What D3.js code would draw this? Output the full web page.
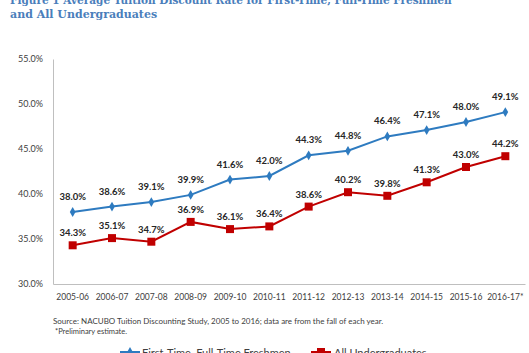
<!DOCTYPE html>
<html><head><meta charset="utf-8">
<script src="https://cdn.jsdelivr.net/npm/d3@7"></script>
<style>body{margin:0;background:#fff}svg{display:block}</style>
</head><body>
<script>
const categories = ["2005-06","2006-07","2007-08","2008-09","2009-10","2010-11","2011-12","2012-13","2013-14","2014-15","2015-16","2016-17*"];
const freshmen = [38.0,38.6,39.1,39.9,41.6,42.0,44.3,44.8,46.4,47.1,48.0,49.1];
const undergrads = [34.3,35.1,34.7,36.9,36.1,36.4,38.6,40.2,39.8,41.3,43.0,44.2];
const yTicks = [30,35,40,45,50,55];
const seriesNames = ["First-Time, Full-Time Freshmen","All Undergraduates"];

const W=529,H=353;
const svg=d3.select("body").append("svg").attr("width",W).attr("height",H);
const x=d3.scaleBand().domain(categories).range([53,525]);
const y=d3.scaleLinear().domain([30,55]).range([284,59]);
const axisFont="Lato, 'Open Sans', sans-serif";

// title
svg.append("text").attr("x",10).attr("y",4).attr("font-family","'DejaVu Serif', serif").attr("font-weight","bold")
  .attr("font-size",10.5).attr("fill","#4a7ebb").text("Figure 1 Average Tuition Discount Rate for First-Time, Full-Time Freshmen");
svg.append("text").attr("x",10).attr("y",18).attr("font-family","'DejaVu Serif', serif").attr("font-weight","bold")
  .attr("font-size",11).attr("fill","#4a7ebb").text("and All Undergraduates");

// axes
const ya=svg.append("g").attr("transform","translate(53,0)")
  .call(d3.axisLeft(y).tickValues(yTicks).tickSize(0).tickPadding(10).tickFormat(d=>d.toFixed(1)+"%"));
ya.select(".domain").attr("stroke","#bfbfbf");
ya.selectAll("text").attr("font-family",axisFont).attr("font-size",9).attr("fill","#404040");
const xa=svg.append("g").attr("transform","translate(0,284)")
  .call(d3.axisBottom(x).tickSize(0).tickPadding(10));
xa.select(".domain").attr("stroke","#bfbfbf");
xa.selectAll("text").attr("font-family",axisFont).attr("font-size",8.5).attr("fill","#404040");

const cx=d=>x(d)+x.bandwidth()/2;
const line=d3.line().x((d,i)=>cx(categories[i])).y(d=>y(d));
const blue="#2e7bc0", red="#c00000";

svg.append("path").datum(undergrads).attr("d",line).attr("fill","none").attr("stroke",red).attr("stroke-width",2);
svg.append("path").datum(freshmen).attr("d",line).attr("fill","none").attr("stroke",blue).attr("stroke-width",2);

svg.selectAll(".sq").data(undergrads).enter().append("rect")
  .attr("x",(d,i)=>cx(categories[i])-4).attr("y",d=>y(d)-4).attr("width",8).attr("height",8).attr("fill",red);
const diamond=d3.symbol().type(d3.symbolDiamond).size(28);
svg.selectAll(".dm").data(freshmen).enter().append("path").attr("d",diamond)
  .attr("transform",(d,i)=>`translate(${cx(categories[i])},${y(d)})`).attr("fill",blue);

const lblFont="Lato, 'Open Sans', sans-serif";
svg.selectAll(".lf").data(freshmen).enter().append("text")
  .attr("x",(d,i)=>cx(categories[i])).attr("y",d=>y(d)-12).attr("text-anchor","middle")
  .attr("font-family",lblFont).attr("font-weight","bold").attr("font-size",9.5).attr("fill","#262626")
  .text(d=>d.toFixed(1)+"%");
svg.selectAll(".lu").data(undergrads).enter().append("text")
  .attr("x",(d,i)=>cx(categories[i])).attr("y",d=>y(d)-9).attr("text-anchor","middle")
  .attr("font-family",lblFont).attr("font-weight","bold").attr("font-size",9.5).attr("fill","#262626")
  .text(d=>d.toFixed(1)+"%");

// source
svg.append("text").attr("x",53).attr("y",324).attr("font-family",axisFont).attr("font-size",8).attr("fill","#404040")
  .text("Source: NACUBO Tuition Discounting Study, 2005 to 2016; data are from the fall of each year.");
svg.append("text").attr("x",55).attr("y",334).attr("font-family",axisFont).attr("font-size",7.5).attr("fill","#404040")
  .text("*Preliminary estimate.");

// legend
const lg=svg.append("g");
lg.append("line").attr("x1",120).attr("x2",140).attr("y1",352).attr("y2",352).attr("stroke",blue).attr("stroke-width",2);
lg.append("path").attr("d",diamond).attr("transform","translate(130,352)").attr("fill",blue);
lg.append("text").attr("x",142).attr("y",357).attr("font-family",axisFont).attr("font-size",11).attr("fill","#404040").text(seriesNames[0]);
lg.append("line").attr("x1",311).attr("x2",331).attr("y1",352).attr("y2",352).attr("stroke",red).attr("stroke-width",2);
lg.append("rect").attr("x",317).attr("y",348).attr("width",8).attr("height",8).attr("fill",red);
lg.append("text").attr("x",334).attr("y",357).attr("font-family",axisFont).attr("font-size",11).attr("fill","#404040").text(seriesNames[1]);
</script>
</body></html>
